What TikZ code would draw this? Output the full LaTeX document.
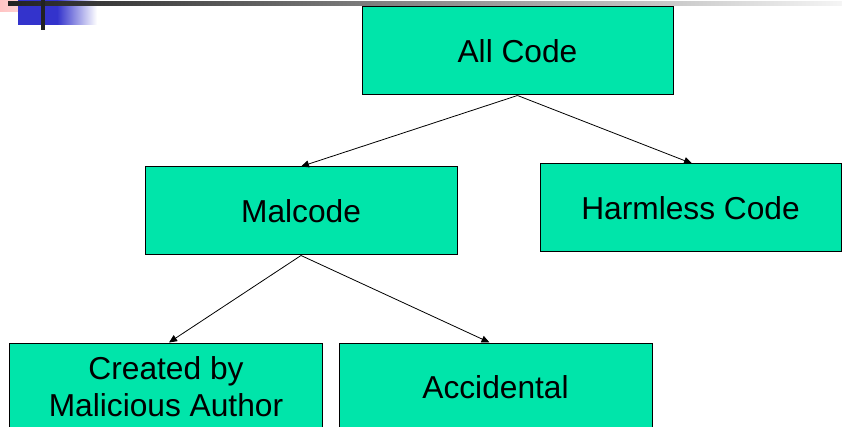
\documentclass[tikz,border=0pt]{standalone}
\usepackage{fontspec}
\setmainfont{Liberation Sans}
\usetikzlibrary{arrows.meta}
\definecolor{boxfill}{RGB}{0,229,170}
\definecolor{barblue}{RGB}{51,51,204}
\definecolor{barpink}{RGB}{255,196,196}
\definecolor{bardark}{RGB}{34,34,34}
\tikzset{
  box/.style={draw=black, line width=1pt, fill=boxfill, rectangle,
    minimum width=312pt, minimum height=88pt, inner sep=0pt, align=center,
    font=\fontsize{31.7}{37}\selectfont},
  link/.style={line width=0.8pt, -{Triangle[length=8pt,width=7pt]}}
}
\begin{document}
\begin{tikzpicture}[x=1pt,y=-1pt]
\useasboundingbox (0,0) rectangle (842,427);
\clip (0,0) rectangle (842,427);

% title-bar ornament
\shade[left color=barpink, right color=barpink!60] (0,0) rectangle (33,12);
\fill[barblue] (18,0) rectangle (57,25);
\shade[left color=barblue, right color=white] (57,0) rectangle (97,25);
\shade[left color=bardark, right color=white!96!black] (8,2) rectangle (842,6);
\fill[bardark] (41,0) rectangle (45,30);

% hierarchy boxes
\node[box, minimum width=311pt] (all) at (517.5,51) {All Code};
\node[box] (mal) at (301,211) {Malcode};
\node[box, minimum width=301pt] (harm) at (690.5,208) {Harmless Code};
\node[box, minimum width=313pt] (auth) at (166,387) {Created by\\Malicious Author};
\node[box, minimum width=313pt] (acc) at (495.5,387) {Accidental};

% connectors
\draw[link] (all.south) -- (mal.north);
\draw[link] (all.south) -- ([xshift=1.5pt]harm.north);
\draw[link] (mal.south) -- ([xshift=3pt]auth.north);
\draw[link] (mal.south) -- ([xshift=-6pt]acc.north);
\end{tikzpicture}
\end{document}
